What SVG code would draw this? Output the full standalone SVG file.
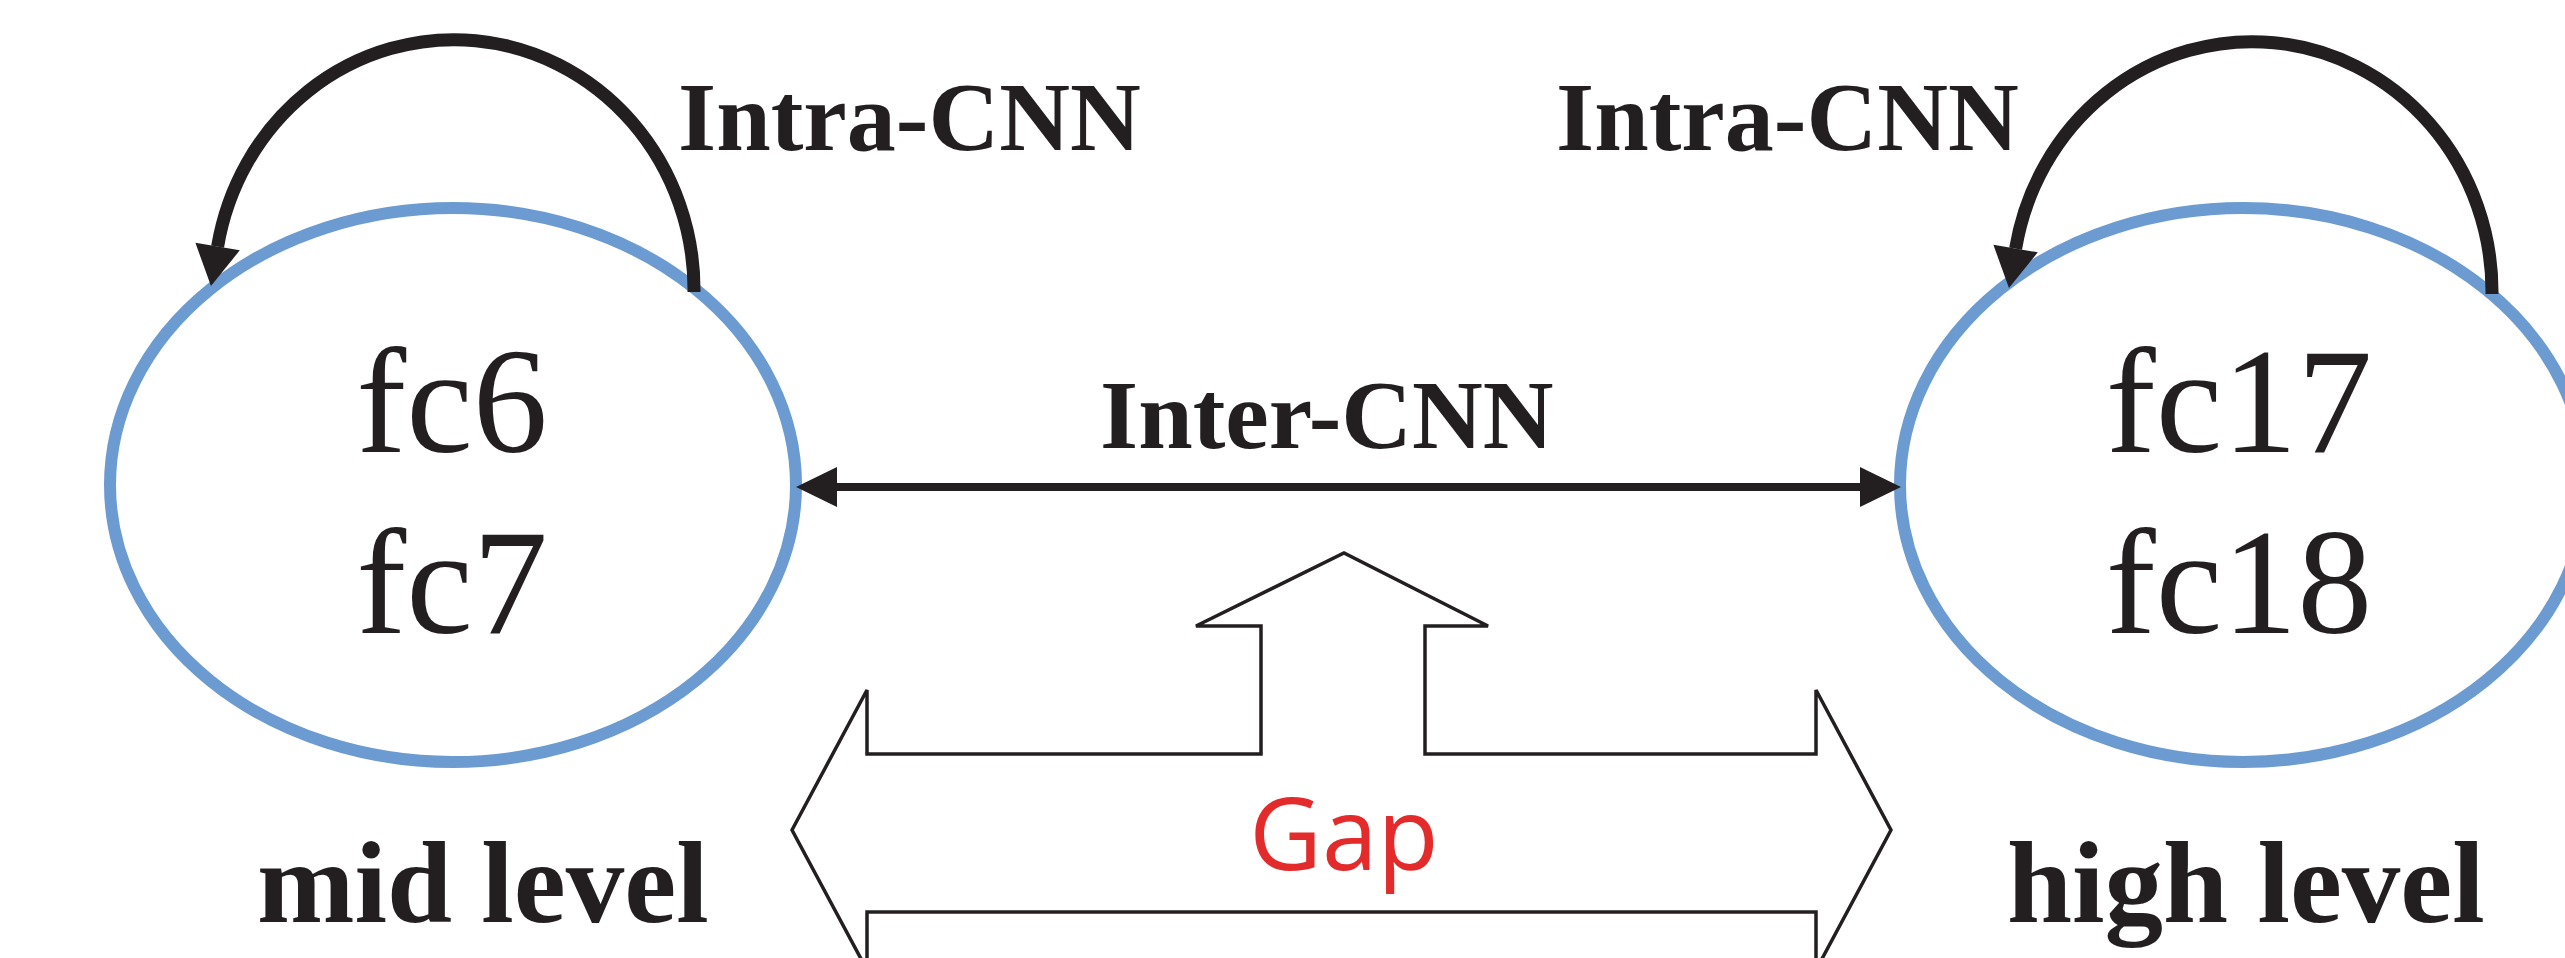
<svg xmlns="http://www.w3.org/2000/svg" width="2565" height="958" viewBox="0 0 2565 958">
<style>
.node{fill:#ffffff;stroke:#6c9bd2;stroke-width:12}
.lbl{font-family:"Liberation Serif","Times New Roman",serif;fill:#231f20}
.big{font-size:150px;text-anchor:middle}
.bold{font-weight:bold}
.arc{fill:none;stroke:#231f20;stroke-width:13}
.inter{fill:none;stroke:#231f20;stroke-width:8}
.gap{fill:#ffffff;stroke:#231f20;stroke-width:3.5;stroke-linejoin:miter}
</style>
<defs>
<marker id="ah" markerUnits="userSpaceOnUse" markerWidth="50" markerHeight="50" viewBox="0 -25 45 50" refX="0" refY="0" orient="auto">
<path d="M0,-22.5 L40,0 L0,22.5 z" fill="#231f20"/>
</marker>
<marker id="ah2" markerUnits="userSpaceOnUse" markerWidth="50" markerHeight="50" viewBox="0 -25 45 50" refX="0" refY="0" orient="auto">
<path d="M0,-20 L41,0 L0,20 z" fill="#231f20"/>
</marker>
<marker id="ah2s" markerUnits="userSpaceOnUse" markerWidth="50" markerHeight="50" viewBox="0 -25 45 50" refX="0" refY="0" orient="auto-start-reverse">
<path d="M0,-20 L41,0 L0,20 z" fill="#231f20"/>
</marker>
</defs>
<rect width="2565" height="958" fill="#ffffff"/>

<g id="node-mid">
<ellipse class="node" cx="453" cy="485" rx="343" ry="277"/>
<text class="lbl big" x="452" y="452">fc6</text>
<text class="lbl big" x="452" y="633">fc7</text>
</g>

<g id="node-high">
<ellipse class="node" cx="2243" cy="485" rx="343" ry="277"/>
<text class="lbl big" x="2239" y="452">fc17</text>
<text class="lbl big" x="2239" y="633">fc18</text>
</g>

<g id="gap-arrow">
<path class="gap" d="M792,830 L867,690 L867,754 L1261,754 L1261,626 L1196,626 L1344,553 L1488,626 L1425,626 L1425,754 L1816,754 L1816,690 L1891,830 L1816,970 L1816,912 L867,912 L867,970 Z"/>
<text x="1344" y="870" font-family="'Open Sans','Noto Sans',sans-serif" font-size="100" fill="#e32b2b" text-anchor="middle">Gap</text>
</g>

<g id="connectors">
<path class="arc" d="M694,292 A240,250 0 0 0 217.6,246.6" marker-end="url(#ah)"/>
<path class="arc" d="M2492,294 A240,250 0 0 0 2015.6,248.6" marker-end="url(#ah)"/>
<path class="inter" d="M837,487 L1860,487" marker-start="url(#ah2s)" marker-end="url(#ah2)"/>
</g>

<g id="labels">
<text class="lbl bold" x="678" y="150" font-size="98">Intra-CNN</text>
<text class="lbl bold" x="1556" y="150" font-size="98">Intra-CNN</text>
<text class="lbl bold" x="1100" y="448" font-size="98">Inter-CNN</text>
<text class="lbl bold" x="257" y="922" font-size="117">mid level</text>
<text class="lbl bold" x="2007" y="922" font-size="117">high level</text>
</g>
</svg>
